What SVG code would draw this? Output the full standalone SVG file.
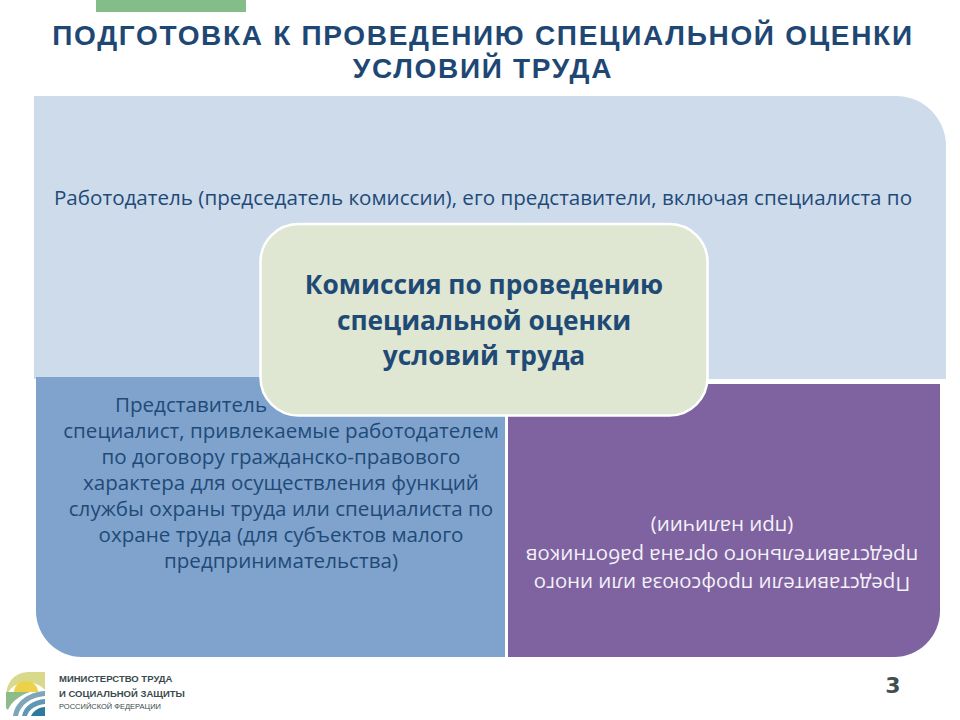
<svg xmlns="http://www.w3.org/2000/svg" width="960" height="720" viewBox="0 0 960 720">
<style>
.title{font:bold 28px "Liberation Sans",Arial,sans-serif;fill:#1f4773;text-anchor:middle;letter-spacing:1.7px}
.body{font:20.6px "Open Sans","Noto Sans",sans-serif;text-anchor:middle;fill:#1f4a78}
.center{font:bold 26.3px "Open Sans","Noto Sans",sans-serif;text-anchor:middle;fill:#1f4a75}
.white{fill:#f4f1f8;font-size:20.4px}
.logo{font:bold 9.5px "Liberation Sans",sans-serif;fill:#3a4a4d}
</style>
<rect width="960" height="720" fill="#fff"/>
<rect id="accent" x="96" y="0" width="150" height="12" fill="#84bc8a"/>
<g id="title">
<text class="title" x="483" y="45">ПОДГОТОВКА К ПРОВЕДЕНИЮ СПЕЦИАЛЬНОЙ ОЦЕНКИ</text>
<text class="title" x="483" y="78">УСЛОВИЙ ТРУДА</text>
</g>
<g id="node-employer">
<path d="M34 96H896A50 50 0 0 1 946 146V379H34Z" fill="#cddbeb"/>
<text class="body" x="483" y="205">Работодатель (председатель комиссии), его представители, включая специалиста по</text>
</g>
<g id="node-specialist">
<path d="M36 377H505V657H82A46 46 0 0 1 36 611Z" fill="#7fa3cc"/>
<text class="body" x="191" y="412">Представитель</text>
<text class="body" x="281" y="438">специалист, привлекаемые работодателем</text>
<text class="body" x="281" y="464">по договору гражданско-правового</text>
<text class="body" x="281" y="490">характера для осуществления функций</text>
<text class="body" x="281" y="516">службы охраны труда или специалиста по</text>
<text class="body" x="281" y="542">охране труда (для субъектов малого</text>
<text class="body" x="281" y="568">предпринимательства)</text>
</g>
<g id="node-union">
<path d="M508 384H940V611A46 46 0 0 1 894 657H508Z" fill="#7e63a0"/>
<g transform="rotate(180 723 545)">
<text class="body white" x="724" y="513">Представители профсоюза или иного</text>
<text class="body white" x="724" y="541.500">представительного органа работников</text>
<text class="body white" x="724" y="570">(при наличии)</text>
</g>
</g>
<g id="node-commission">
<rect x="260.500" y="224" width="447" height="191.500" rx="38" fill="#dfe6d2" stroke="#fff" stroke-width="2.500"/>
<text class="center" x="484" y="294">Комиссия по проведению</text>
<text class="center" x="484" y="330">специальной оценки</text>
<text class="center" x="484" y="365">условий труда</text>
</g>
<g id="logo">
<path d="M6 696C7 680 16 672 30 672H45V690C38 682 24 680 14 686C10 689 8 692 6 696Z" fill="#d9d98c"/>
<path d="M14 692A12 11 0 0 1 38 692Z" fill="#ecd24a"/>
<path d="M6 692H30C20 695 11 702 8 710L6 708Z" fill="#8dbb8a"/>
<path d="M13 716C15 702 28 692 45 691V696C31 697 20 705 18 716Z" fill="#7fa6b8"/>
<path d="M22 716C24 706 33 700 45 699V704C36 705 29 709 27 716Z" fill="#5f97b5"/>
<path d="M31 716C33 711 39 707 45 707V716Z" fill="#2d7a9c"/>
<text class="logo" x="59" y="682">МИНИСТЕРСТВО ТРУДА</text>
<text class="logo" x="59" y="697">И СОЦИАЛЬНОЙ ЗАЩИТЫ</text>
<text class="logo" x="59" y="709" style="font-size:7.5px;font-weight:normal">РОССИЙСКОЙ ФЕДЕРАЦИИ</text>
</g>
<text id="page" x="893" y="693" text-anchor="middle" style="font:bold 22px 'DejaVu Sans',sans-serif;fill:#3f4f52">3</text>
</svg>
